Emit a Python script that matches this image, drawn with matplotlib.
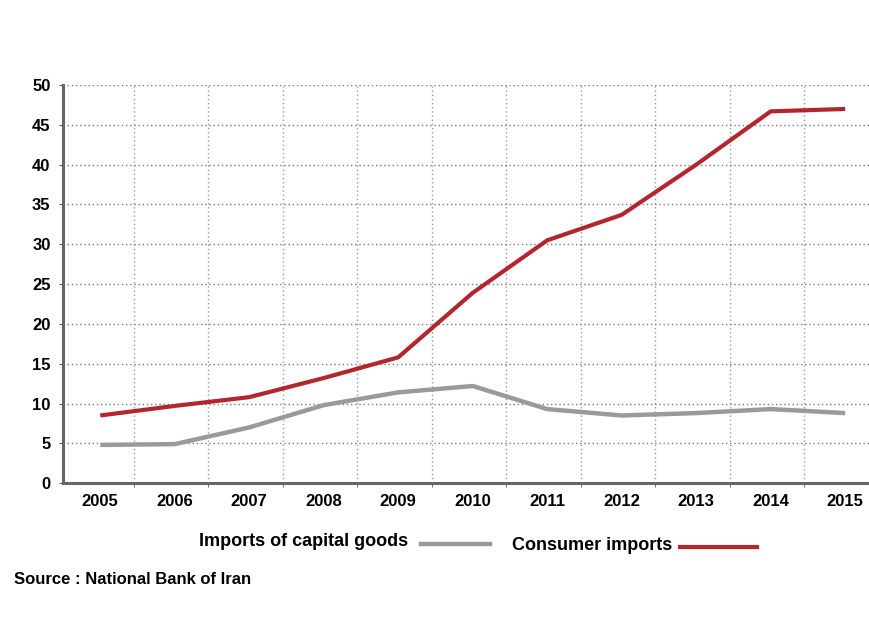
import matplotlib
matplotlib.use("Agg")
import matplotlib.pyplot as plt
from matplotlib.lines import Line2D

years = ["2005", "2006", "2007", "2008", "2009", "2010", "2011", "2012", "2013", "2014", "2015"]
capital_goods = [4.8, 4.9, 7.0, 9.8, 11.4, 12.2, 9.3, 8.5, 8.8, 9.3, 8.8]
consumer_imports = [8.5, 9.7, 10.8, 13.2, 15.8, 23.9, 30.5, 33.7, 40.0, 46.7, 47.0]
yticks = [0, 5, 10, 15, 20, 25, 30, 35, 40, 45, 50]

FONT = ['Liberation Sans Narrow', 'Liberation Sans', 'DejaVu Sans']
plt.rcParams['font.family'] = FONT

fig = plt.figure(figsize=(8.69, 6.21), dpi=100)
ax = fig.add_axes([0.0725, 0.222, 0.9275, 0.641])

x = list(range(len(years)))
ax.plot(x, capital_goods, color='#9a9a9a', lw=3.2, solid_capstyle='butt')
ax.plot(x, consumer_imports, color='#b3262e', lw=3.0, solid_capstyle='butt')

ax.set_xlim(-0.5, 10.32)
ax.set_ylim(0, 50)
ax.set_xticks(x)
ax.set_xticklabels(years, fontsize=12, fontweight='bold')
ax.set_yticks(yticks)
ax.set_yticklabels([str(v) for v in yticks], fontsize=12, fontweight='bold')
ax.set_xticks([i + 0.45 for i in range(10)], minor=True)
ax.tick_params(axis='x', which='major', length=0, pad=8)
ax.tick_params(axis='x', which='minor', length=3, color='#555555')
ax.tick_params(axis='y', length=3, color='#555555', pad=6)

ax.grid(True, axis='y', which='major', linestyle=(0, (1, 2)), color='#777777', lw=1.0)
ax.grid(True, axis='x', which='minor', linestyle=(0, (1, 2)), color='#999999', lw=1.0)
ax.set_axisbelow(True)

for s in ['top', 'right']:
    ax.spines[s].set_visible(False)
for s in ['left', 'bottom']:
    ax.spines[s].set_color('#666666')
    ax.spines[s].set_linewidth(2.2)

# legend
fig.text(408/869, 1 - 541/621, "Imports of capital goods", ha='right', va='center',
         fontsize=13, fontweight='bold')
fig.add_artist(Line2D([421/869, 490/869], [1 - 544/621] * 2, color='#9a9a9a', lw=3.2))
fig.text(512/869, 1 - 545/621, "Consumer imports", ha='left', va='center',
         fontsize=13, fontweight='bold')
fig.add_artist(Line2D([680/869, 757/869], [1 - 547/621] * 2, color='#b3262e', lw=3.0))

fig.text(14/869, 1 - 579/621, "Source : National Bank of Iran", ha='left', va='center',
         fontsize=12, fontweight='bold')

fig.savefig("out.png", dpi=100, facecolor='white')
